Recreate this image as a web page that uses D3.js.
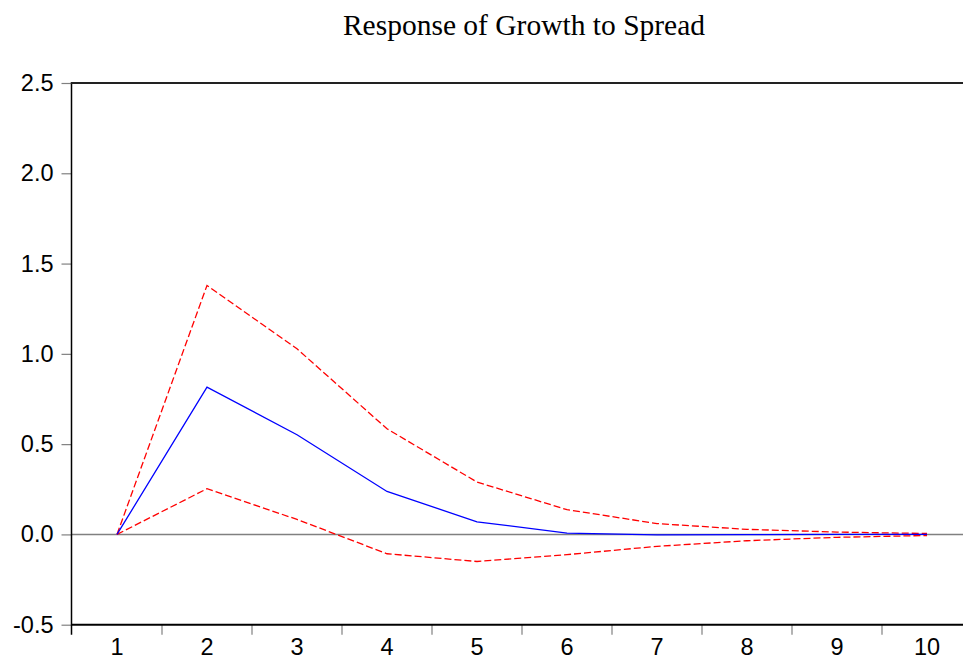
<!DOCTYPE html>
<html>
<head>
<meta charset="utf-8">
<script src="https://cdn.jsdelivr.net/npm/d3@7"></script>
<style>
  body { margin: 0; background: #fff; }
  svg { display: block; }
</style>
</head>
<body>
<script>
// periods and impulse response values
const periods = [1, 2, 3, 4, 5, 6, 7, 8, 9, 10];
const response = [0, 0.816, 0.552, 0.238, 0.070, 0.007, -0.002, -0.001, 0.000, 0.000];
const upperBand = [0, 1.379, 1.028, 0.585, 0.290, 0.137, 0.060, 0.028, 0.013, 0.005];
const lowerBand = [0, 0.253, 0.083, -0.107, -0.150, -0.112, -0.066, -0.035, -0.016, -0.006];
const yTicks = [-0.5, 0.0, 0.5, 1.0, 1.5, 2.0, 2.5];

const W = 963, H = 662;
const margin = {top: 83, right: -9, bottom: 37, left: 72};

const svg = d3.select("body").append("svg")
  .attr("width", W)
  .attr("height", H);

const x = d3.scaleBand()
  .domain(periods)
  .range([margin.left, W - margin.right]);

const y = d3.scaleLinear()
  .domain([-0.5, 2.5])
  .range([H - margin.bottom - 0.3, margin.top]);

const cx = d => x(d) + x.bandwidth() / 2;

// title
svg.append("text")
  .attr("x", 524)
  .attr("y", 35)
  .attr("text-anchor", "middle")
  .style("font-family", "'Liberation Serif', 'Times New Roman', serif")
  .style("font-size", "29.5px")
  .text("Response of Growth to Spread");

// zero line
svg.append("line")
  .attr("x1", margin.left).attr("x2", W)
  .attr("y1", y(0)).attr("y2", y(0))
  .attr("stroke", "#808080")
  .attr("stroke-width", 1.5);

// y axis
const yAxis = d3.axisLeft(y)
  .tickValues(yTicks)
  .tickFormat(d => d.toFixed(1))
  .tickSize(10)
  .tickPadding(8);

const gy = svg.append("g")
  .attr("transform", "translate(" + (margin.left - 0.5) + ",0)")
  .call(yAxis);
gy.select(".domain").remove();
gy.selectAll(".tick line").attr("stroke", "#808080").attr("stroke-width", 1.2);
gy.selectAll(".tick text")
  .style("font-family", "'Liberation Sans', Arial, sans-serif")
  .style("font-size", "23.5px")
  .attr("fill", "#000");

// x axis
const xAxis = d3.axisBottom(x)
  .tickSize(0)
  .tickPadding(14);

const gx = svg.append("g")
  .attr("transform", "translate(0," + y(-0.5) + ")")
  .call(xAxis);
gx.select(".domain").remove();
gx.selectAll(".tick text")
  .style("font-family", "'Liberation Sans', Arial, sans-serif")
  .style("font-size", "23.5px")
  .attr("fill", "#000");

// x tick marks between periods
svg.append("g").selectAll("line")
  .data(periods.slice(1))
  .join("line")
  .attr("x1", d => x(d)).attr("x2", d => x(d))
  .attr("y1", y(-0.5)).attr("y2", y(-0.5) + 10)
  .attr("stroke", "#808080")
  .attr("stroke-width", 1.2);

// frame: left, top, bottom
svg.append("line")
  .attr("x1", margin.left - 0.5).attr("x2", margin.left - 0.5)
  .attr("y1", y(2.5) - 1).attr("y2", y(-0.5) + 10)
  .attr("stroke", "#000").attr("stroke-width", 1.5);
svg.append("line")
  .attr("x1", margin.left - 1).attr("x2", W)
  .attr("y1", y(2.5)).attr("y2", y(2.5))
  .attr("stroke", "#222").attr("stroke-width", 1.8);
svg.append("line")
  .attr("x1", margin.left - 1).attr("x2", W)
  .attr("y1", y(-0.5)).attr("y2", y(-0.5))
  .attr("stroke", "#000").attr("stroke-width", 2);

const line = d3.line()
  .x((d, i) => cx(periods[i]))
  .y(d => y(d));

svg.append("path")
  .datum(upperBand)
  .attr("d", line)
  .attr("fill", "none")
  .attr("stroke", "#ff0000")
  .attr("stroke-width", 1.3)
  .attr("stroke-dasharray", "7,3");

svg.append("path")
  .datum(lowerBand)
  .attr("d", line)
  .attr("fill", "none")
  .attr("stroke", "#ff0000")
  .attr("stroke-width", 1.3)
  .attr("stroke-dasharray", "7,3");

svg.append("path")
  .datum(response)
  .attr("d", line)
  .attr("fill", "none")
  .attr("stroke", "#0000ff")
  .attr("stroke-width", 1.3);
</script>
</body>
</html>
